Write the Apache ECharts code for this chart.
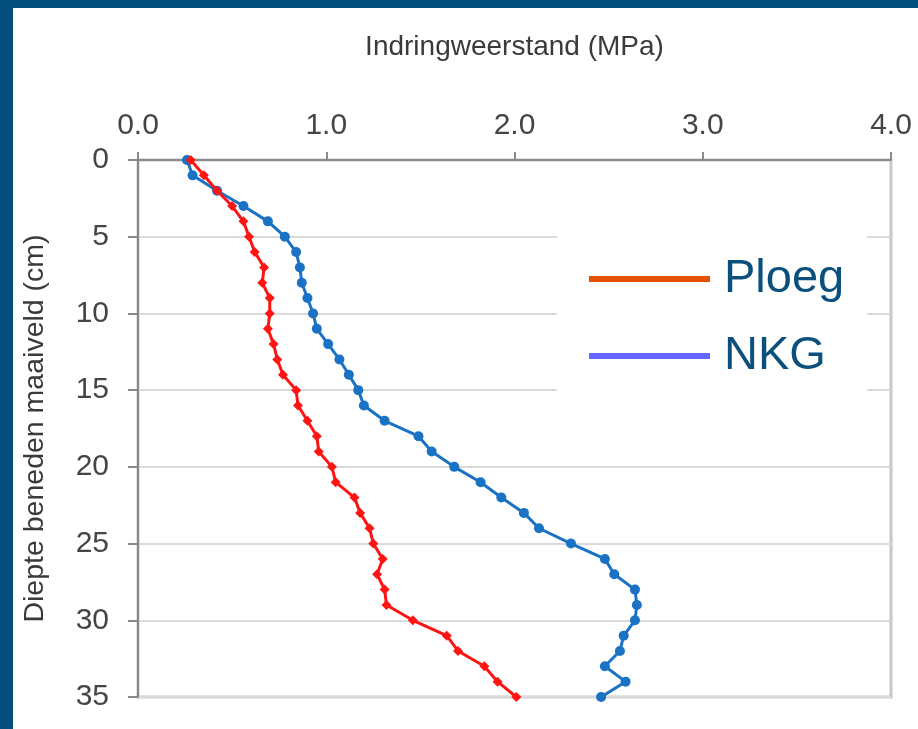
<!DOCTYPE html>
<html>
<head>
<meta charset="utf-8">
<script src="https://cdn.jsdelivr.net/npm/echarts@6/dist/echarts.min.js"></script>
<style>
html,body{margin:0;padding:0;background:#fff;}
#chart{width:918px;height:729px;}
</style>
</head>
<body>
<div id="chart"></div>
<script>
// depth below ground level (cm)
const depths = [0,1,2,3,4,5,6,7,8,9,10,11,12,13,14,15,16,17,18,19,20,21,22,23,24,25,26,27,28,29,30,31,32,33,34,35];
// penetration resistance (MPa)
const ploeg = [0.28,0.35,0.42,0.50,0.56,0.59,0.62,0.67,0.66,0.70,0.70,0.69,0.72,0.74,0.77,0.84,0.85,0.90,0.95,0.96,1.03,1.05,1.15,1.18,1.23,1.25,1.30,1.27,1.31,1.32,1.46,1.64,1.70,1.84,1.91,2.01];
const nkg   = [0.26,0.29,0.42,0.56,0.69,0.78,0.84,0.86,0.87,0.90,0.93,0.95,1.01,1.07,1.12,1.17,1.20,1.31,1.49,1.56,1.68,1.82,1.93,2.05,2.13,2.30,2.48,2.53,2.64,2.65,2.64,2.58,2.56,2.48,2.59,2.46];
const seriesNames = ['Ploeg','NKG'];
const xTitle = 'Indringweerstand (MPa)';
const yTitle = 'Diepte beneden maaiveld (cm)';

const font = 'Liberation Sans, Arial, sans-serif';
const chart = echarts.init(document.getElementById('chart'));
chart.setOption({
  backgroundColor: '#ffffff',
  animation: false,
  graphic: [
    {type:'rect', left:0, top:0, shape:{width:13, height:729}, style:{fill:'#024d7b'}, z:100},
    {type:'rect', left:0, top:0, shape:{width:918, height:8}, style:{fill:'#024d7b'}, z:100}
  ],
  grid: {left:138, top:160, right:27, bottom:32, show:true, borderColor:'#c8c8c8', borderWidth:3, backgroundColor:'transparent'},
  legend: {
    orient:'vertical', left:557, top:233, selectedMode:false,
    backgroundColor:'#ffffff',
    padding:[21,23,14,32],
    itemGap:27, itemWidth:121, itemHeight:6,
    textStyle:{fontSize:47, color:'#0b4f7c', fontFamily:font, lineHeight:50, padding:[0,0,0,9]},
    data:[
      {name:seriesNames[0], icon:'rect', itemStyle:{color:'#e65100'}},
      {name:seriesNames[1], icon:'rect', itemStyle:{color:'#6666ff'}}
    ]
  },
  xAxis: {
    type:'value', position:'top', min:0, max:4, interval:1,
    name:xTitle, nameLocation:'middle', nameGap:99,
    nameTextStyle:{fontSize:28, color:'#3a3a3a', fontFamily:font},
    axisLine:{show:true, lineStyle:{color:'#8a8a8a', width:2}},
    axisTick:{show:true, length:8, lineStyle:{color:'#8a8a8a', width:2}},
    axisLabel:{margin:19, fontSize:30, color:'#454545', fontFamily:font, formatter:v=>v.toFixed(1)},
    splitLine:{show:false}
  },
  yAxis: {
    type:'value', inverse:true, min:0, max:35, interval:5,
    name:yTitle, nameLocation:'middle', nameGap:88, nameRotate:90,
    nameTextStyle:{fontSize:28.5, color:'#3a3a3a', fontFamily:font},
    axisLine:{show:true, lineStyle:{color:'#8a8a8a', width:2}},
    axisTick:{show:true, length:10, lineStyle:{color:'#8a8a8a', width:2}},
    axisLabel:{margin:29, fontSize:30, color:'#454545', fontFamily:font},
    splitLine:{show:true, lineStyle:{color:'#d9d9d9', width:2}}
  },
  series: [
    {
      name:seriesNames[0], type:'line',
      data: depths.map((d,i)=>[ploeg[i], d]),
      symbol:'diamond', symbolSize:10, showAllSymbol:true,
      lineStyle:{color:'#ff1414', width:3},
      itemStyle:{color:'#ff1414'}, z:3
    },
    {
      name:seriesNames[1], type:'line',
      data: depths.map((d,i)=>[nkg[i], d]),
      symbol:'circle', symbolSize:10, showAllSymbol:true,
      lineStyle:{color:'#1a72c4', width:3},
      itemStyle:{color:'#1a72c4'}, z:2
    }
  ]
});
</script>
</body>
</html>
